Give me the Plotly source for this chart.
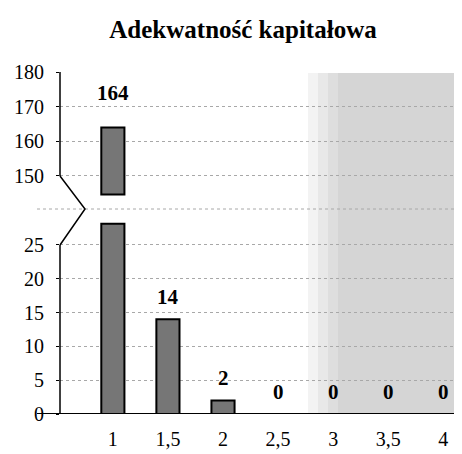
import plotly.graph_objects as go

# ---- data ----
categories = [1, 1.5, 2, 2.5, 3, 3.5, 4]
tick_labels = ["1", "1,5", "2", "2,5", "3", "3,5", "4"]
values = [164, 14, 2, 0, 0, 0, 0]
title_text = "Adekwatność kapitałowa"

low_ticks = [0, 5, 10, 15, 20, 25]
high_ticks = [150, 160, 170, 180]

LOW_RANGE = [0, 28.4]
HIGH_RANGE = [144.2, 180]

OFF = 8  # default page body margin
W, H = 462 - OFF, 454 - OFF
ML, MR, MT = 60 - OFF, 0, 72 - OFF
MB = H - (414 - OFF)
plot_h = H - MT - MB
plot_w = W - ML - MR

def py(pix):
    return (414 - pix) / plot_h

def px(pix):
    return (pix - 60) / plot_w

LOW_DOM = [0, py(222)]
HIGH_DOM = [py(196), 1]

FONT = "Liberation Serif, Times New Roman, serif"
BAR_FILL = "#767676"
BAR_W = 0.21

fig = go.Figure()

# bottom segment of bars (clipped at the break)
low_vals = [min(v, LOW_RANGE[1] - 0.25) for v in values]
fig.add_trace(go.Bar(x=categories, y=low_vals, width=BAR_W,
                     marker=dict(color=BAR_FILL, line=dict(color="black", width=2)),
                     xaxis="x", yaxis="y", showlegend=False, hoverinfo="skip"))

# top segment for values above the break
hi_x = [c for c, v in zip(categories, values) if v > HIGH_RANGE[0]]
hi_v = [v for v in values if v > HIGH_RANGE[0]]
hi_base = [HIGH_RANGE[0] + 0.4 for _ in hi_v]
fig.add_trace(go.Bar(x=hi_x, y=[v - b for v, b in zip(hi_v, hi_base)], base=hi_base,
                     width=BAR_W,
                     marker=dict(color=BAR_FILL, line=dict(color="black", width=2)),
                     xaxis="x", yaxis="y2", showlegend=False, hoverinfo="skip"))

shapes = []
# stippled scan background on the right
for x0, x1, col in [(308, 318, "#f3f3f3"), (318, 328, "#e8e8e8"), (328, 338, "#dedede"),
                    (338, 462, "#d5d5d5")]:
    shapes.append(dict(type="rect", xref="paper", yref="paper",
                       x0=px(x0), x1=px(x1), y0=0, y1=py(73),
                       fillcolor=col, line=dict(width=0), layer="below"))
# dotted gridline in the break gap
shapes.append(dict(type="line", xref="paper", yref="paper",
                   x0=px(37), x1=1, y0=py(209), y1=py(209),
                   line=dict(color="#a8a8a8", width=1, dash="dot"), layer="below"))
# y axis line with zig-zag break
shapes.append(dict(type="line", xref="paper", yref="y2", x0=0, x1=0,
                   y0=high_ticks[0], y1=high_ticks[-1], line=dict(color="black", width=1.5)))
shapes.append(dict(type="line", xref="paper", yref="y", x0=0, x1=0,
                   y0=low_ticks[0], y1=low_ticks[-1], line=dict(color="black", width=1.5)))
shapes.append(dict(type="path", xref="paper", yref="paper",
                   path=f"M 0 {py(176)} L {px(85)} {py(209)} L 0 {py(245)}",
                   line=dict(color="black", width=1.5)))
# x axis line extended to the left
shapes.append(dict(type="line", xref="paper", yref="y", x0=px(37), x1=1, y0=0, y1=0,
                   line=dict(color="black", width=2)))

annotations = []
for c, v in zip(categories, values):
    top = v > HIGH_RANGE[0]
    annotations.append(dict(x=c, y=v, xref="x", yref="y2" if top else "y",
                            text=f"<b>{v}</b>", showarrow=False, yanchor="middle",
                            yshift=34 if top else 22,
                            font=dict(family=FONT, size=21, color="black")))

grid = dict(showgrid=True, gridcolor="#a8a8a8", griddash="dot", gridwidth=1)

fig.update_layout(
    width=W, height=H,
    margin=dict(l=ML, r=MR, t=MT, b=MB),
    paper_bgcolor="white", plot_bgcolor="rgba(0,0,0,0)",
    font=dict(family=FONT, size=20, color="black"),
    title=dict(text=f"<b>{title_text}</b>", x=(243 - OFF) / W, xanchor="center",
               y=1 - (29 - OFF) / H, yanchor="middle",
               font=dict(family=FONT, size=25, color="black")),
    xaxis=dict(range=[0.52, 4.17], tickvals=categories, ticktext=tick_labels,
               showgrid=False, zeroline=False, showline=False, ticks="",
               ticklabelstandoff=11, anchor="y",
               tickfont=dict(family=FONT, size=20)),
    yaxis=dict(domain=LOW_DOM, range=LOW_RANGE, tickvals=low_ticks,
               zeroline=False, showline=False, ticks="outside", ticklen=3,
               tickcolor="black", ticklabelstandoff=8,
               tickfont=dict(family=FONT, size=20), **grid),
    yaxis2=dict(domain=HIGH_DOM, range=HIGH_RANGE, tickvals=high_ticks,
                zeroline=False, showline=False, ticks="outside", ticklen=3,
                tickcolor="black", ticklabelstandoff=8, anchor="x",
                tickfont=dict(family=FONT, size=20), **grid),
    shapes=shapes,
    annotations=annotations,
)

fig.write_html("out.html")
